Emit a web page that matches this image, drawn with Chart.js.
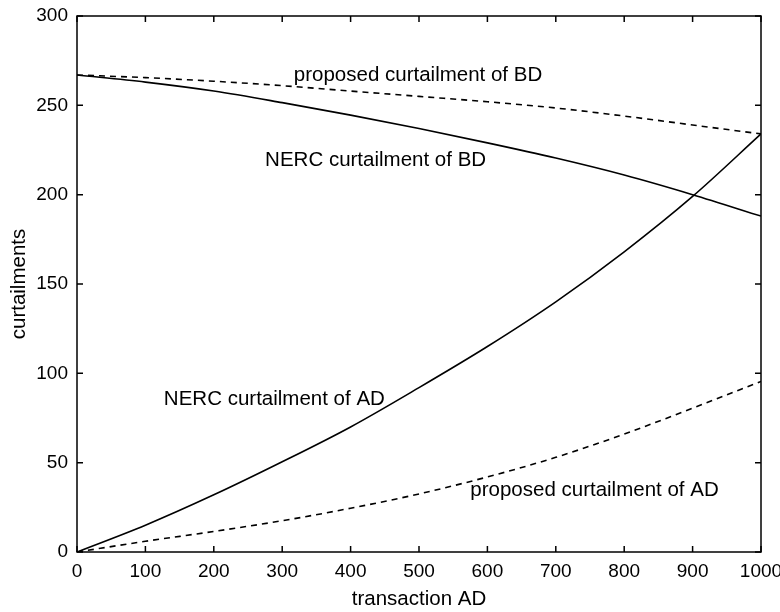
<!DOCTYPE html>
<html>
<head>
<meta charset="utf-8">
<script src="https://cdn.jsdelivr.net/npm/chart.js@4/dist/chart.umd.min.js"></script>
<style>
  html, body { margin: 0; padding: 0; background: #fff; }
  #wrap { width: 780px; height: 612px; }
</style>
</head>
<body>
<div id="wrap"><canvas id="curtailChart"></canvas></div>
<script>
// transaction AD values (x axis)
const transactionAD = [0, 100, 200, 300, 400, 500, 600, 700, 800, 900, 1000];

// curtailments
const nercBD     = [267, 263, 258, 251.5, 244.5, 237, 229, 220.5, 211, 200, 188];
const proposedBD = [267, 265.5, 263.5, 261, 258, 255, 252, 248.5, 244, 239, 234];
const nercAD     = [0, 15, 32, 50.5, 70, 92, 115, 140, 168, 199, 234];
const proposedAD = [0, 6, 11.5, 17.5, 24.5, 32.5, 42, 53, 66, 80.5, 95.5];

const xTicks = [0, 100, 200, 300, 400, 500, 600, 700, 800, 900, 1000];
const yTicks = [0, 50, 100, 150, 200, 250, 300];

// text labels placed in data coordinates
const curveLabels = [
  { text: 'proposed curtailment of BD', x: 317, y: 267 },
  { text: 'NERC curtailment of BD', x: 275, y: 219 },
  { text: 'NERC curtailment of AD', x: 127, y: 85.5 },
  { text: 'proposed curtailment of AD', x: 575, y: 34.5 }
];

const FONT = '"Liberation Sans", Arial, Helvetica, sans-serif';

function toPoints(ys) {
  return transactionAD.map((x, i) => ({ x: x, y: ys[i] }));
}

// frame, inward tick marks and curve labels
const matlabBox = {
  id: 'matlabBox',
  afterDraw(chart) {
    const { ctx, chartArea: a, scales } = chart;
    const len = 6;
    ctx.save();
    ctx.strokeStyle = '#000';
    ctx.lineWidth = 1.5;
    ctx.strokeRect(a.left, a.top, a.right - a.left, a.bottom - a.top);
    ctx.beginPath();
    xTicks.forEach((v) => {
      const px = scales.x.getPixelForValue(v);
      ctx.moveTo(px, a.bottom); ctx.lineTo(px, a.bottom - len);
      ctx.moveTo(px, a.top); ctx.lineTo(px, a.top + len);
    });
    yTicks.forEach((v) => {
      const py = scales.y.getPixelForValue(v);
      ctx.moveTo(a.left, py); ctx.lineTo(a.left + len, py);
      ctx.moveTo(a.right, py); ctx.lineTo(a.right - len, py);
    });
    ctx.stroke();

    ctx.fillStyle = '#000';
    ctx.font = '20.5px ' + FONT;
    ctx.textAlign = 'left';
    ctx.textBaseline = 'middle';
    curveLabels.forEach((l) => {
      ctx.fillText(l.text, scales.x.getPixelForValue(l.x), scales.y.getPixelForValue(l.y));
    });
    ctx.restore();
  }
};

const lineStyle = {
  borderColor: '#000',
  borderWidth: 1.6,
  pointRadius: 0,
  fill: false,
  cubicInterpolationMode: 'monotone'
};

new Chart(document.getElementById('curtailChart').getContext('2d'), {
  type: 'line',
  data: {
    datasets: [
      { ...lineStyle, label: 'NERC curtailment of BD', data: toPoints(nercBD) },
      { ...lineStyle, label: 'proposed curtailment of BD', data: toPoints(proposedBD), borderDash: [6, 5] },
      { ...lineStyle, label: 'NERC curtailment of AD', data: toPoints(nercAD) },
      { ...lineStyle, label: 'proposed curtailment of AD', data: toPoints(proposedAD), borderDash: [6, 5] }
    ]
  },
  options: {
    responsive: true,
    maintainAspectRatio: false,
    animation: false,
    layout: { padding: { left: 0, right: 19, top: 16, bottom: 0 } },
    scales: {
      x: {
        type: 'linear',
        min: 0,
        max: 1000,
        afterBuildTicks: (scale) => { scale.ticks = xTicks.map((v) => ({ value: v })); },
        afterFit: (scale) => { scale.height = 60; scale.paddingLeft = 0; scale.paddingRight = 0; },
        grid: { display: false, drawTicks: false },
        border: { display: false },
        ticks: {
          color: '#000',
          padding: 8,
          maxRotation: 0,
          font: { family: FONT, size: 19 },
          callback: (v) => String(v)
        },
        title: {
          display: true,
          text: 'transaction AD',
          color: '#000',
          padding: { top: 0, bottom: 0 },
          font: { family: FONT, size: 20.5 }
        }
      },
      y: {
        min: 0,
        max: 300,
        afterBuildTicks: (scale) => { scale.ticks = yTicks.map((v) => ({ value: v })); },
        afterFit: (scale) => { scale.width = 77; scale.paddingTop = 0; scale.paddingBottom = 0; },
        grid: { display: false, drawTicks: false },
        border: { display: false },
        ticks: { color: '#000', padding: 9, font: { family: FONT, size: 19 } },
        title: {
          display: true,
          text: 'curtailments',
          color: '#000',
          padding: { top: 7, bottom: 0 },
          font: { family: FONT, size: 20.5 }
        }
      }
    },
    plugins: {
      legend: { display: false },
      tooltip: { enabled: false }
    }
  },
  plugins: [matlabBox]
});
</script>
</body>
</html>
